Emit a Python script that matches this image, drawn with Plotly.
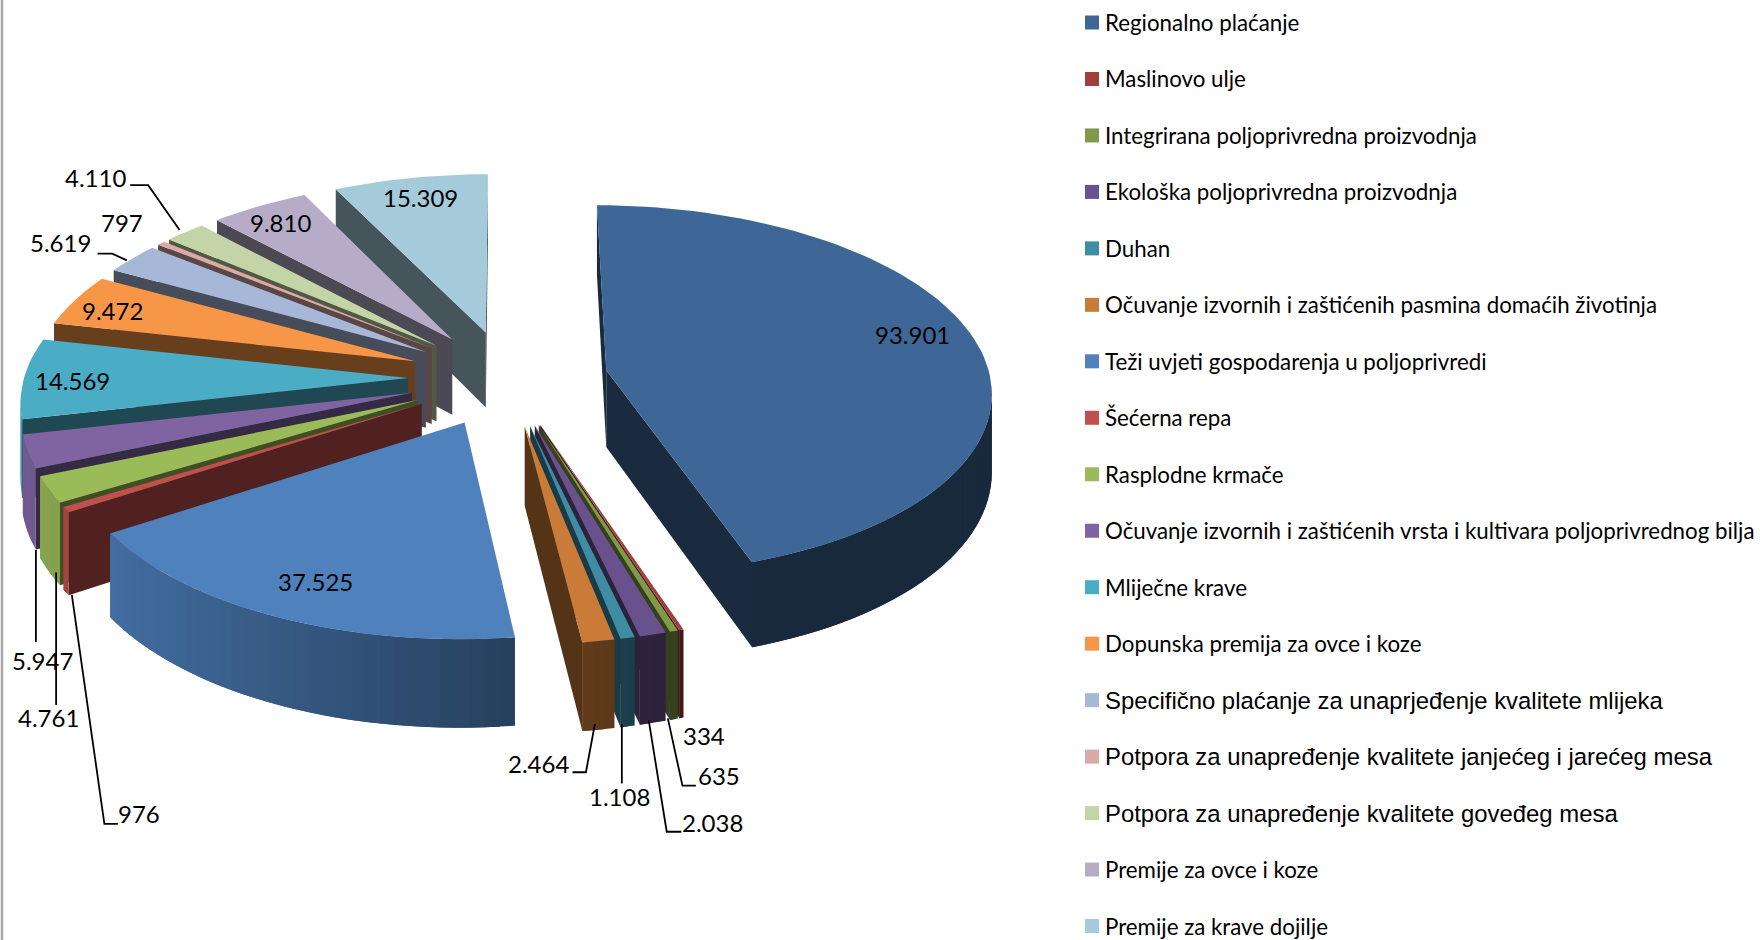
import math
import plotly.graph_objects as go

# ---------- data ----------
categories = [
    "Regionalno plaćanje", "Maslinovo ulje", "Integrirana poljoprivredna proizvodnja",
    "Ekološka poljoprivredna proizvodnja", "Duhan",
    "Očuvanje izvornih i zaštićenih pasmina domaćih životinja",
    "Teži uvjeti gospodarenja u poljoprivredi", "Šećerna repa", "Rasplodne krmače",
    "Očuvanje izvornih i zaštićenih vrsta i kultivara poljoprivrednog bilja",
    "Mliječne krave", "Dopunska premija za ovce i koze",
    "Specifično plaćanje za unaprjeđenje kvalitete mlijeka",
    "Potpora za unapređenje kvalitete janjećeg i jarećeg mesa",
    "Potpora za unapređenje kvalitete goveđeg mesa",
    "Premije za ovce i koze", "Premije za krave dojilje",
]
values = [93901, 334, 635, 2038, 1108, 2464, 37525, 976, 4761, 5947,
          14569, 9472, 5619, 797, 4110, 9810, 15309]
colors = ["#3E6797", "#A03F3C", "#7F9A48", "#69518D", "#3E8DA5", "#C97B37",
          "#4F81BD", "#C0504D", "#9BBB59", "#8064A2", "#4BACC6", "#F79646",
          "#A7B7D7", "#DBA9A8", "#C3D5A6", "#B7ACC8", "#A5CBDB"]
legend_arial = [12, 13, 14]

# ---------- label placement (page pixels) ----------
S = 1760 / 1568
label_xy = [(813, 298), (627, 655), (641, 691), (635, 733), (552, 710), (480, 680),
            (281, 518), (124, 725), (43, 639), (38, 588), (65, 339), (100, 277),
            (54, 216), (109, 198), (85, 158), (250, 198), (375, 176)]
leaders = [
    [(116, 165), (132, 165), (160, 205)],
    [(87, 226), (100, 226), (113, 232)],
    [(32, 572), (32, 490)],
    [(50, 628), (50, 510)],
    [(105, 734), (93, 734), (64, 530)],
    [(510, 688), (522, 688), (530, 645)],
    [(554, 698), (554, 645)],
    [(607, 741), (594, 741), (578, 642)],
    [(620, 700), (608, 700), (595, 640)],
]

# ---------- projection ----------
CX, CY = 508, 378
R, E = 384, 100
A, P, H = 0.479, 0.105, 77
STEP = 2.0


def project(u, v):
    f = 1 / (1 - P * v / R)
    return CX + u * f, CY + A * v * f, f


def rgb(hexc, k):
    r, g, b = (int(hexc[i:i + 2], 16) for i in (1, 3, 5))
    return f"rgb({int(r * k)},{int(g * k)},{int(b * k)})"


def arc_shade(theta):
    s = math.sin(theta)
    return max(0.4, 0.55 - 0.45 * s) if s > 0 else 0.55 + 0.36 * (-s)


fig = go.Figure()


def poly(xs, ys, color, name=None):
    fig.add_trace(go.Scatter(x=xs + xs[:1], y=ys + ys[:1], mode="lines", fill="toself",
                             fillcolor=color, line=dict(color=color, width=0),
                             showlegend=False, name=name,
                             hoverinfo="name" if name else "skip"))


def wall(a, b, color, reach=None):
    """Front-facing side face from a to b; reach lets it run under the next face, hiding seams."""
    if b[0] < a[0]:
        c = reach or b
        poly([a[0], c[0], c[0], a[0]], [a[1], c[1], c[1] + H * c[2], a[1] + H * a[2]], color)


total = sum(values)
slices = []
cum = 0
for i, val in enumerate(values):
    t0 = cum / total * 2 * math.pi
    cum += val
    t1 = cum / total * 2 * math.pi
    m = (t0 + t1) / 2
    slices.append((-math.cos(m), i, t0, t1, m))

for _, i, t0, t1, m in sorted(slices):
    u0, v0 = E * math.sin(m), -E * math.cos(m)
    n = max(2, math.ceil(math.degrees(t1 - t0) / STEP))
    thetas = [t0 + (t1 - t0) * k / n for k in range(n + 1)]
    apex = project(u0, v0)
    rim = [project(u0 + R * math.sin(t), v0 - R * math.cos(t)) for t in thetas]
    col = colors[i]
    wall(apex, rim[0], rgb(col, 0.42))
    wall(rim[-1], apex, rgb(col, 0.42))
    for k in range(n):
        wall(rim[k], rim[k + 1], rgb(col, arc_shade((thetas[k] + thetas[k + 1]) / 2)),
             reach=rim[min(k + 2, n)])
    pts = [apex] + rim
    poly([p[0] for p in pts], [p[1] for p in pts], col, f"{categories[i]}: {values[i]:,}".replace(",", "."))

for path in leaders:
    fig.add_trace(go.Scatter(x=[p[0] * S for p in path], y=[p[1] * S for p in path], mode="lines",
                             line=dict(color="#000000", width=1.8), showlegend=False, hoverinfo="skip"))

annotations = []
for (x, y), val in zip(label_xy, values):
    annotations.append(dict(x=x * S, y=y * S, text=f"{val:,}".replace(",", "."), showarrow=False,
                            font=dict(family="Lato", size=24, color="#000000")))

LEG_Y0, LEG_DY, SWATCH_X, TEXT_X = 22.5, 56.47, 1092, 1103
leg_y = [LEG_Y0 + LEG_DY * i for i in range(len(categories))]
fig.add_trace(go.Scatter(x=[SWATCH_X] * len(categories), y=leg_y, mode="markers",
                         marker=dict(symbol="square", size=14, color=colors, line=dict(width=0)),
                         showlegend=False, hoverinfo="skip"))
for i, cat in enumerate(categories):
    arial = i in legend_arial
    annotations.append(dict(x=TEXT_X, y=leg_y[i], text=cat, showarrow=False, xanchor="left",
                            font=dict(family="Liberation Sans" if arial else "Lato",
                                      size=23.9 if arial else 22.3, color="#000000")))

fig.update_layout(
    width=1760, height=940, margin=dict(l=0, r=0, t=0, b=0),
    paper_bgcolor="#FFFFFF", plot_bgcolor="#FFFFFF", showlegend=False,
    xaxis=dict(range=[0, 1760], visible=False, fixedrange=True),
    yaxis=dict(range=[940, 0], visible=False, fixedrange=True),
    annotations=annotations,
    shapes=[dict(type="line", x0=2, x1=2, y0=0, y1=940, line=dict(color="#A6A6A6", width=2.5))],
)
fig.write_html("out.html", config={"displayModeBar": False},
               post_script="document.body.style.margin='0';document.body.style.overflow='hidden';")
